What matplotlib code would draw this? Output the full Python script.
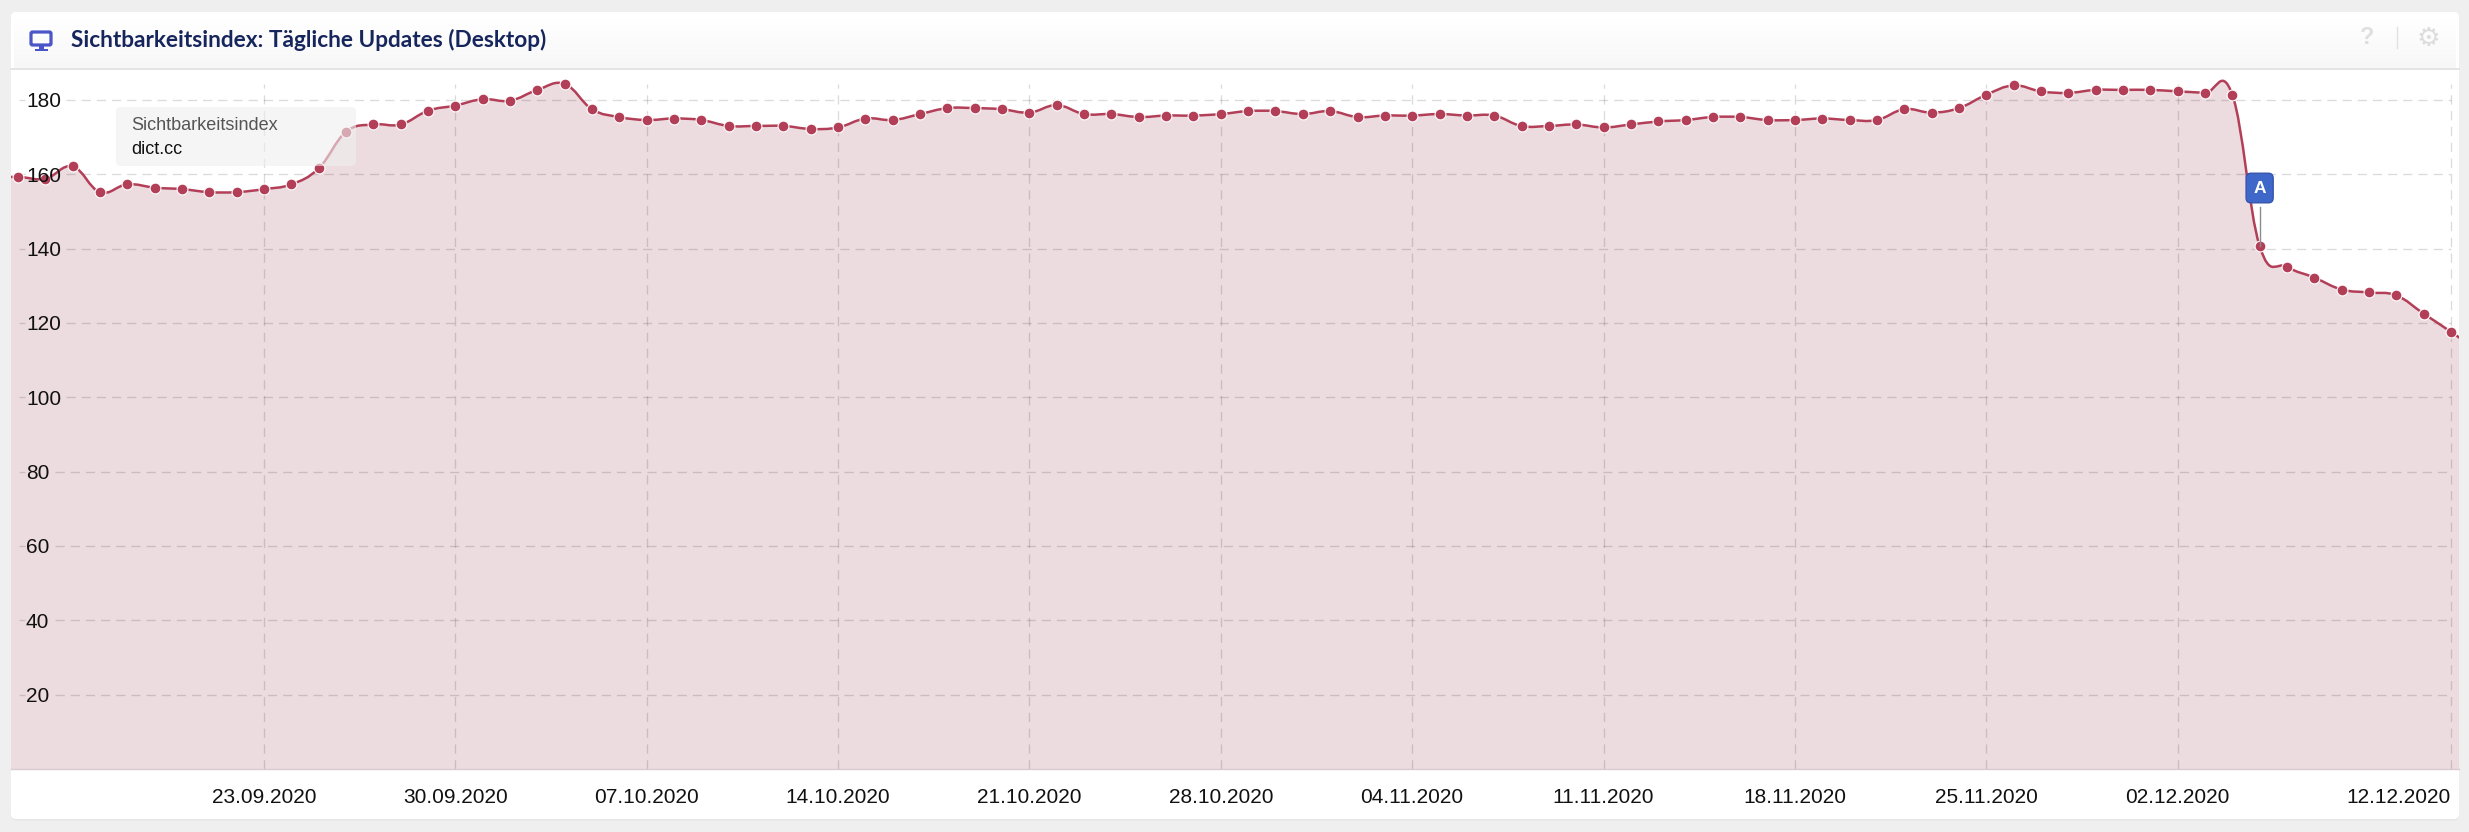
import matplotlib
matplotlib.use("Agg")
import numpy as np
import pandas as pd
import matplotlib.pyplot as plt
import matplotlib.dates as mdates
from matplotlib.path import Path
from matplotlib.patches import PathPatch, Rectangle, FancyBboxPatch
from matplotlib.lines import Line2D
from matplotlib.transforms import Affine2D, IdentityTransform, blended_transform_factory

W, H = 2469, 832

plt.rcParams['font.family'] = ['Liberation Sans', 'DejaVu Sans']

# daily values, first and last one sit just outside the visible range
start_date = "2020-09-13"
end_date = "2020-12-13"
values = [159.0,
          159.3, 158.8, 162.1, 155.2, 157.3, 156.4, 156.0, 155.2, 155.2, 156.0,
          157.3, 161.6, 171.4, 173.4, 173.4, 177.1, 178.5, 180.2, 179.8, 182.7,
          184.3, 177.5, 175.4, 174.6, 175.0, 174.6, 173.0, 173.0, 173.0, 172.2,
          172.6, 175.0, 174.6, 176.2, 177.8, 177.8, 177.5, 176.6, 178.6, 176.2,
          176.2, 175.4, 175.8, 175.8, 176.2, 177.0, 177.0, 176.2, 177.0, 175.4,
          175.8, 175.8, 176.2, 175.8, 175.8, 173.0, 173.0, 173.4, 172.6, 173.4,
          174.2, 174.6, 175.4, 175.4, 174.6, 174.6, 175.0, 174.6, 174.6, 177.5,
          176.6, 177.8, 181.4, 183.9, 182.3, 181.9, 182.7, 182.7, 182.7, 182.3,
          181.9, 181.4, 140.7, 135.1, 132.2, 129.0, 128.2, 127.4, 122.5, 117.6,
          112.5]
y_ticks = [20, 40, 60, 80, 100, 120, 140, 160, 180]
x_tick_dates = ["2020-09-23", "2020-09-30", "2020-10-07", "2020-10-14", "2020-10-21", "2020-10-28",
                "2020-11-04", "2020-11-11", "2020-11-18", "2020-11-25", "2020-12-02", "2020-12-12"]
x_tick_labels = ["23.09.2020", "30.09.2020", "07.10.2020", "14.10.2020", "21.10.2020", "28.10.2020",
                 "04.11.2020", "11.11.2020", "18.11.2020", "25.11.2020", "02.12.2020", "12.12.2020"]
flag_date = "2020-12-05"
title = "Sichtbarkeitsindex: Tägliche Updates (Desktop)"
tooltip_title = "Sichtbarkeitsindex"
tooltip_name = "dict.cc"

LINE = "#b23f57"
FILL = "#ecdce0"


def spline_path(xs, ys, smoothing=1.5):
    # control points like a highcharts spline, no clamping (the peak before the drop needs it)
    n = len(xs)
    left = [(xs[i], ys[i]) for i in range(n)]
    right = [(xs[i], ys[i]) for i in range(n)]
    for i in range(1, n - 1):
        lx = (smoothing * xs[i] + xs[i - 1]) / (smoothing + 1)
        ly = (smoothing * ys[i] + ys[i - 1]) / (smoothing + 1)
        rx = (smoothing * xs[i] + xs[i + 1]) / (smoothing + 1)
        ry = (smoothing * ys[i] + ys[i + 1]) / (smoothing + 1)
        corr = (ry - ly) * (rx - xs[i]) / (rx - lx) + ys[i] - ry
        left[i] = (lx, ly + corr)
        right[i] = (rx, ry + corr)
    verts = [(xs[0], ys[0])]
    codes = [Path.MOVETO]
    for i in range(1, n):
        verts += [right[i - 1], left[i], (xs[i], ys[i])]
        codes += [Path.CURVE4] * 3
    return verts, codes


fig = plt.figure(figsize=(W / 100, H / 100), dpi=100, facecolor="#efefef")
px = Affine2D().scale(1, -1).translate(0, H)  # figure pixels, y from the top

# card and header
fig.add_artist(FancyBboxPatch((14, 15), 2442, 801, boxstyle="round,pad=3,rounding_size=5",
                              fc="#e6e6e6", ec="none", transform=px.frozen() + Affine2D().translate(0, -1.5), zorder=-3))
fig.add_artist(FancyBboxPatch((14, 15), 2442, 801, boxstyle="round,pad=3,rounding_size=5",
                              fc="white", ec="none", transform=px, zorder=-2))
ax_head = fig.add_axes([14 / W, 1 - 68 / H, 2442 / W, 56 / H], zorder=-1)
ax_head.imshow(np.linspace(1.0, 0.965, 56).reshape(-1, 1), cmap="gray", vmin=0, vmax=1, aspect="auto")
ax_head.axis("off")
fig.add_artist(Line2D([11, 2459], [68.5, 68.5], color="#e4e4e4", lw=1.4, transform=px, zorder=-1))

# monitor icon
fig.add_artist(FancyBboxPatch((31, 32), 20, 13, boxstyle="round,pad=0,rounding_size=1.5",
                              fc="none", ec="#4a55c8", lw=2.3, transform=px, zorder=1))
fig.add_artist(Rectangle((38.5, 46), 5, 3, fc="#4a55c8", ec="none", transform=px, zorder=1))
fig.add_artist(Rectangle((34.5, 48.5), 13, 2, fc="#4a55c8", ec="none", transform=px, zorder=1))

fig.text(71, H - 47, title, transform=IdentityTransform(), family="Lato", weight="bold",
         fontsize=16.3, color="#16255c", va="baseline")

fig.text(2367, H - 38, "?", transform=IdentityTransform(), weight="bold", fontsize=17, color="#dfdfdf",
         ha="center", va="center")
fig.add_artist(Line2D([2397, 2397], [27, 48], color="#e2e2e2", lw=1, transform=px))
fig.text(2428, H - 39, "\u2699", transform=IdentityTransform(), family="DejaVu Sans", weight="bold",
         fontsize=19, color="#dcdcdc", ha="center", va="center")

# chart area
ax = fig.add_axes([11 / W, 1 - 769 / H, 2448 / W, 701 / H], zorder=0)
ax.patch.set_visible(False)
for s in ax.spines.values():
    s.set_visible(False)

dates = mdates.date2num(pd.date_range(start_date, end_date, freq="D"))
vals = np.array(values)
tick_x = mdates.date2num(pd.to_datetime(x_tick_dates))

px_per_day = (2451 - 264) / (tick_x[-1] - tick_x[0])
ax.set_xlim(tick_x[0] - (264 - 11) / px_per_day, tick_x[-1] + (2459 - 2451) / px_per_day)
ax.set_ylim(0, 701 / 3.717)

verts, codes = spline_path(dates, vals)
area_verts = verts + [(dates[-1], 0), (dates[0], 0), (dates[0], vals[0])]
area_codes = codes + [Path.LINETO, Path.LINETO, Path.LINETO]
ax.add_patch(PathPatch(Path(area_verts, area_codes), fc=FILL, ec="none", zorder=1))

# grid
grid_top = 685 / 3.717
y_blend = blended_transform_factory(IdentityTransform(), ax.transData)
for v in y_ticks:
    lab = str(v)
    ax.plot([19, 25], [v, v], transform=y_blend, color="black", alpha=0.14, lw=0.95, ls=(0, (5, 3)), zorder=2)
    ax.plot([33 + 11 * len(lab), 2451], [v, v], transform=y_blend, color="black", alpha=0.14, lw=0.95,
            ls=(0, (7, 4.5)), zorder=2)
    ax.text(26, v, lab, transform=y_blend, fontsize=15, color="#111111", va="center_baseline", ha="left", zorder=6)
ax.vlines(tick_x, 0, grid_top, color="black", alpha=0.14, lw=0.95, ls=(0, (7, 5)), zorder=2)
fig.add_artist(Line2D([11, 2459], [769, 769], color="#d9cbd0", lw=1, transform=px, zorder=1))

# series
ax.add_patch(PathPatch(Path(verts, codes), fc="none", ec=LINE, lw=1.8, zorder=3))
ax.plot(dates, vals, "o", ms=7.8, mfc=LINE, mec="white", mew=0.8, zorder=4)

# ticks
ax.set_yticks([])
ax.set_xticks(tick_x, x_tick_labels)
ax.tick_params(axis="x", length=0, pad=14, labelsize=15, labelcolor="#111111")
ax.get_xticklabels()[-1].set_ha("right")

# annotation flag
flag_x = mdates.date2num(pd.Timestamp(flag_date))
flag_val = vals[list(dates).index(flag_x)]
ax.plot([flag_x, flag_x], [flag_val, flag_val + 39 / 3.717], color="#8c8c8c", lw=1, zorder=5)
ax.annotate("A", xy=(flag_x, flag_val), xytext=(0, 58), textcoords="offset pixels", ha="center",
            va="center", color="white", weight="bold", fontsize=12.5, family="Liberation Sans", zorder=7,
            bbox=dict(boxstyle="round,pad=0.42,rounding_size=0.28", fc="#3f66c9", ec="#3555ad", lw=1))

# tooltip on top of the series
fig.add_artist(FancyBboxPatch((119, 110), 234, 53, boxstyle="round,pad=3,rounding_size=5",
                              fc="#efefef", ec="none", alpha=0.6, transform=px, zorder=8))
fig.text(131, H - 125, tooltip_title, transform=IdentityTransform(), fontsize=13, color="#555555",
         va="center", zorder=9)
fig.text(131, H - 149, tooltip_name, transform=IdentityTransform(), fontsize=13, color="#111111",
         va="center", zorder=9)

fig.savefig("out.png", dpi=100, facecolor=fig.get_facecolor())
